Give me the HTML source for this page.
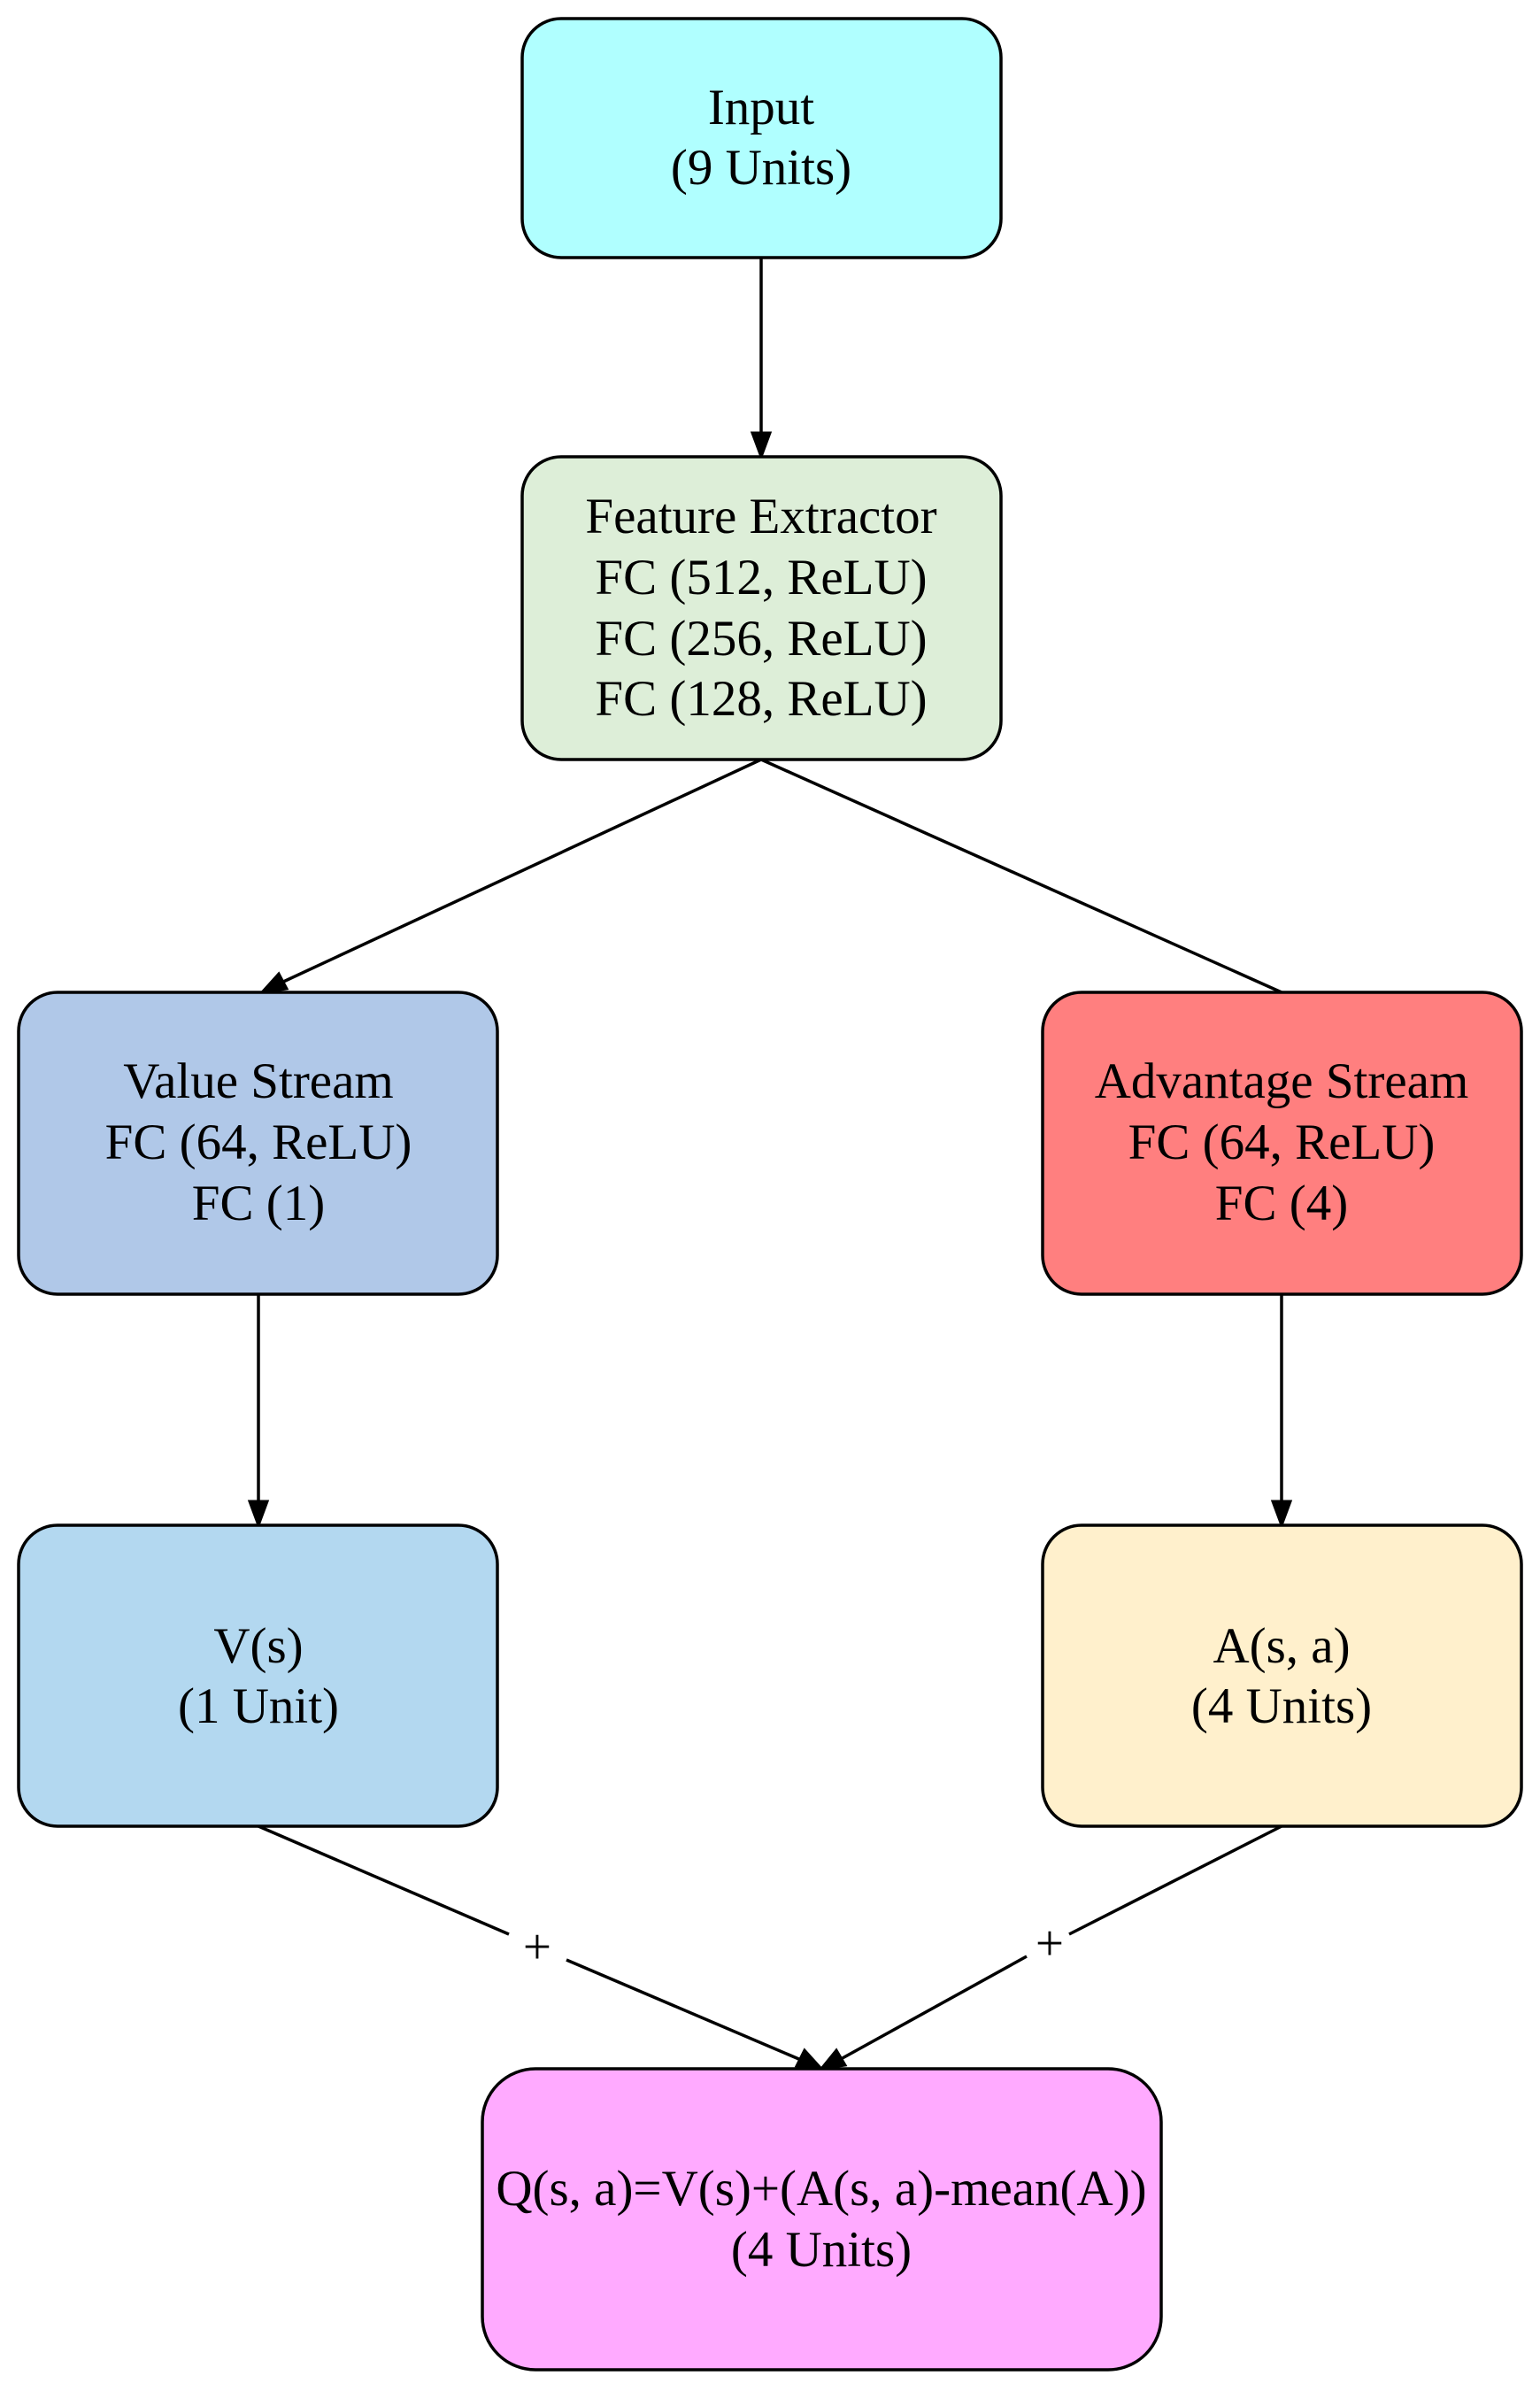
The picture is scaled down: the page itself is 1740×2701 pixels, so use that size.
<!DOCTYPE html>
<html><head><meta charset="utf-8"><style>
html,body{margin:0;padding:0;background:#fff;}
svg{display:block;}
text{font-family:"Liberation Serif",serif;font-size:57px;fill:#000;}
</style></head><body>
<svg width="1740" height="2701" viewBox="0 0 1740 2701" xmlns="http://www.w3.org/2000/svg">
<g stroke="#000" stroke-width="3.5" fill="none">
<line x1="860" y1="291" x2="860" y2="490"/>
<line x1="860" y1="858" x2="318" y2="1110"/>
<line x1="860" y1="858" x2="1448" y2="1121"/>
<line x1="292" y1="1462" x2="292" y2="1697"/>
<line x1="1448" y1="1462" x2="1448" y2="1697"/>
<line x1="292" y1="2063" x2="575" y2="2185"/>
<line x1="640" y1="2214" x2="905" y2="2327"/>
<line x1="1448" y1="2063" x2="1208" y2="2185"/>
<line x1="1160" y1="2210" x2="950" y2="2326"/>
</g>
<g fill="#000" stroke="#000" stroke-width="3">
<polygon points="860,516 850,489 870,489"/>
<polygon points="296,1121 315,1100 324,1117"/>
<polygon points="292,1723 282,1696 302,1696"/>
<polygon points="1448,1723 1438,1696 1458,1696"/>
<polygon points="928,2337 900,2334 909,2316"/>
<polygon points="928,2337 945,2316 955,2333"/>
</g>
<text x="607" y="2218" text-anchor="middle">+</text>
<text x="1186" y="2214" text-anchor="middle">+</text>
<g stroke="#000" stroke-width="3.5">
<rect x="590" y="21" width="541" height="270" rx="44" fill="#b0ffff"/>
<rect x="590" y="516" width="541" height="342" rx="44" fill="#ddeed8"/>
<rect x="21" y="1121" width="541" height="341" rx="44" fill="#b0c8e8"/>
<rect x="1178" y="1121" width="541" height="341" rx="44" fill="#ff7f7f"/>
<rect x="21" y="1723" width="541" height="340" rx="44" fill="#b3d8f0"/>
<rect x="1178" y="1723" width="541" height="340" rx="44" fill="#fff0cc"/>
<rect x="545" y="2337" width="767" height="340" rx="60" fill="#ffaaff"/>
</g>
<g text-anchor="middle">
<text x="860" y="140">Input</text>
<text x="860" y="208">(9 Units)</text>
<text x="860" y="602">Feature Extractor</text>
<text x="860" y="671">FC (512, ReLU)</text>
<text x="860" y="740">FC (256, ReLU)</text>
<text x="860" y="808">FC (128, ReLU)</text>
<text x="292" y="1240">Value Stream</text>
<text x="292" y="1309">FC (64, ReLU)</text>
<text x="292" y="1378">FC (1)</text>
<text x="1448" y="1240">Advantage Stream</text>
<text x="1448" y="1309">FC (64, ReLU)</text>
<text x="1448" y="1378">FC (4)</text>
<text x="292" y="1878">V(s)</text>
<text x="292" y="1946">(1 Unit)</text>
<text x="1448" y="1878">A(s, a)</text>
<text x="1448" y="1946">(4 Units)</text>
<text x="928" y="2491">Q(s, a)=V(s)+(A(s, a)-mean(A))</text>
<text x="928" y="2560">(4 Units)</text>
</g>
</svg>
</body></html>
